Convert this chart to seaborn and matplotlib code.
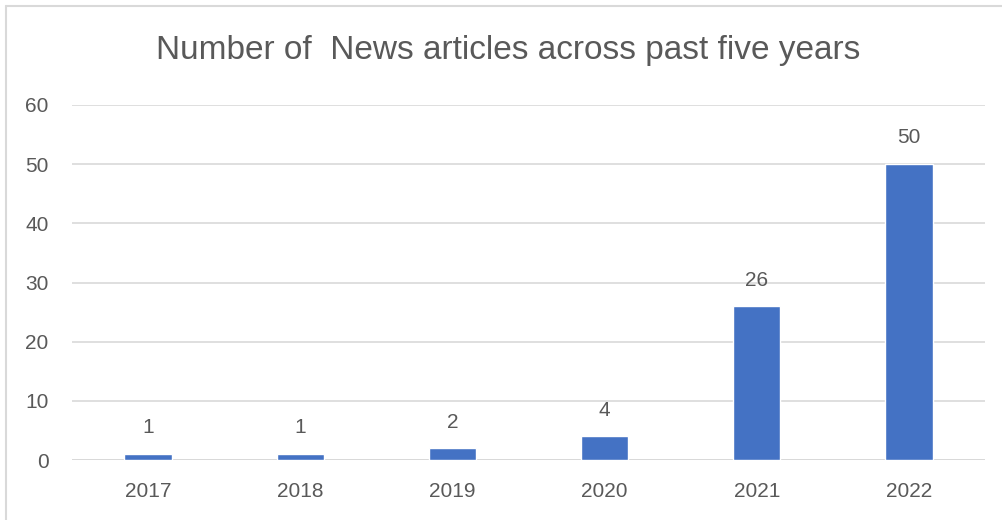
import matplotlib
matplotlib.use("Agg")
import matplotlib.pyplot as plt
from matplotlib.lines import Line2D
import seaborn as sns
import pandas as pd

years = ["2017", "2018", "2019", "2020", "2021", "2022"]
articles = [1, 1, 2, 4, 26, 50]
y_ticks = [0, 10, 20, 30, 40, 50, 60]
title_text = "Number of  News articles across past five years"

sns.set_theme(style="white")
plt.rcParams["font.family"] = ["Liberation Sans", "DejaVu Sans"]

text_color = "#595959"
grid_color = "#d9d9d9"
bar_color = "#4472c4"

df = pd.DataFrame({"year": years, "count": articles})

fig = plt.figure(figsize=(10.02, 5.2), dpi=100)
fig.patch.set_facecolor("white")
ax = fig.add_axes([72 / 1002, (520 - 460) / 520, (985 - 72) / 1002, (460 - 105) / 520])

sns.barplot(data=df, x="year", y="count", color=bar_color, width=0.31,
            saturation=1, ax=ax, zorder=3)

ax.set_ylim(0, 60)
ax.set_xlim(-0.5, len(years) - 0.5)
ax.set_yticks(y_ticks)
ax.set_xlabel("")
ax.set_ylabel("")
for s in ax.spines.values():
    s.set_visible(False)
ax.grid(axis="y", color=grid_color, linewidth=1.2, zorder=0)
ax.axhline(0, color=grid_color, linewidth=1.4, zorder=2)
ax.tick_params(axis="both", length=0, labelsize=15, labelcolor=text_color)
ax.tick_params(axis="y", pad=17)
ax.tick_params(axis="x", pad=16)

for c in ax.containers:
    ax.bar_label(c, labels=[str(v) for v in articles], padding=12,
                 fontsize=15, color=text_color)

fig.text(508 / 1002, (520 - 50) / 520, title_text, ha="center", va="center",
         fontsize=24, color=text_color)

# chart frame on top and left edges
fig.add_artist(Line2D([6 / 1002, 1], [1 - 6 / 520, 1 - 6 / 520],
                      transform=fig.transFigure, color=grid_color, linewidth=1.5))
fig.add_artist(Line2D([6 / 1002, 6 / 1002], [0, 1 - 6 / 520],
                      transform=fig.transFigure, color=grid_color, linewidth=1.5))

fig.savefig("out.png", dpi=100, facecolor="white")
